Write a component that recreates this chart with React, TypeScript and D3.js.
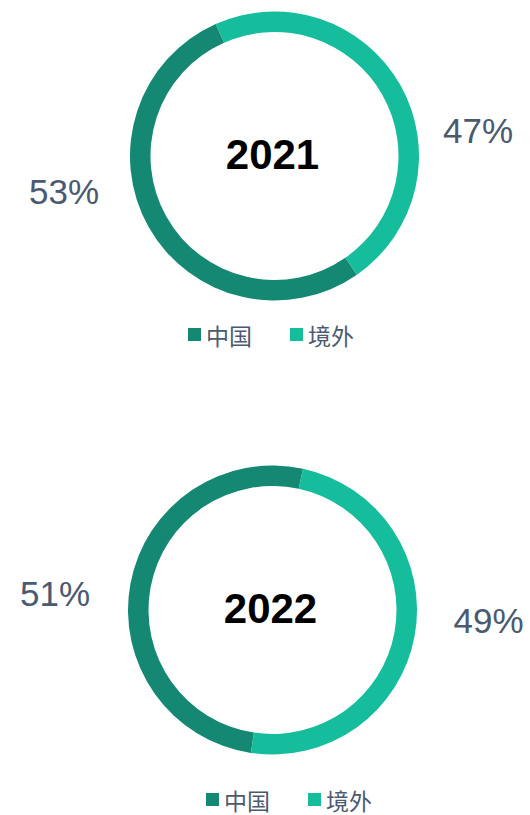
import React, { useEffect, useRef } from 'react';
import * as d3 from 'd3';

// data
const categories = ['中国', '境外'];
const years = ['2021', '2022'];
const share2021 = [53, 47];
const share2022 = [51, 49];

const colors = ['#148873', '#15bd9c'];
const labelColor = '#4a5a70';

// layout per donut (positions only, not data)
const layouts = [
  {
    cx: 274.5, cy: 156, startDeg: 145.2,
    labelOffsets: [[-210.5, 48], [203.5, -13]],
    legendX: 188, legendY: 328,
  },
  {
    cx: 272.5, cy: 610, startDeg: 188.6,
    labelOffsets: [[-217.5, -4], [216, 23]],
    legendX: 206, legendY: 793,
  },
];

const App = () => {
  const ref = useRef<SVGSVGElement | null>(null);

  useEffect(() => {
    const svg = d3.select(ref.current);
    svg.selectAll('*').remove();

    const outerR = 144.5;
    const innerR = 124;
    const series = [share2021, share2022];

    const arc = d3.arc<any>().innerRadius(innerR).outerRadius(outerR);

    series.forEach((values, i) => {
      const lay = layouts[i];
      const start = (lay.startDeg * Math.PI) / 180;
      const pie = d3
        .pie<number>()
        .sort(null)
        .value((d) => d)
        .startAngle(start)
        .endAngle(start + 2 * Math.PI);

      const g = svg.append('g').attr('transform', `translate(${lay.cx},${lay.cy})`);

      g.selectAll('path')
        .data(pie(values))
        .enter()
        .append('path')
        .attr('d', arc)
        .attr('fill', (_d, j) => colors[j]);

      // year in the middle
      g.append('text')
        .attr('x', -2)
        .attr('y', 13)
        .attr('text-anchor', 'middle')
        .attr('font-family', 'Liberation Sans, Arial, sans-serif')
        .attr('font-weight', 'bold')
        .attr('font-size', 42)
        .attr('fill', '#000')
        .text(years[i]);

      // percent labels
      values.forEach((v, j) => {
        const [dx, dy] = lay.labelOffsets[j];
        g.append('text')
          .attr('x', dx)
          .attr('y', dy)
          .attr('text-anchor', 'middle')
          .attr('font-family', 'Liberation Sans, Arial, sans-serif')
          .attr('font-size', 35)
          .attr('fill', labelColor)
          .text(`${v}%`);
      });

      // legend
      const legend = svg.append('g').attr('transform', `translate(${lay.legendX},${lay.legendY})`);
      categories.forEach((c, j) => {
        const item = legend.append('g').attr('transform', `translate(${j * 102},0)`);
        item.append('rect')
          .attr('width', 13)
          .attr('height', 13)
          .attr('fill', colors[j]);
        item.append('text')
          .attr('x', 18)
          .attr('y', 7)
          .attr('dominant-baseline', 'central')
          .attr('font-family', 'Noto Sans CJK SC, sans-serif')
          .attr('font-size', 23)
          .attr('fill', labelColor)
          .text(c);
      });
    });
  }, []);

  return (
    <svg
      ref={ref}
      width={530}
      height={815}
      style={{ position: 'absolute', left: 0, top: 0, background: '#fff' }}
    />
  );
};

export default App;
